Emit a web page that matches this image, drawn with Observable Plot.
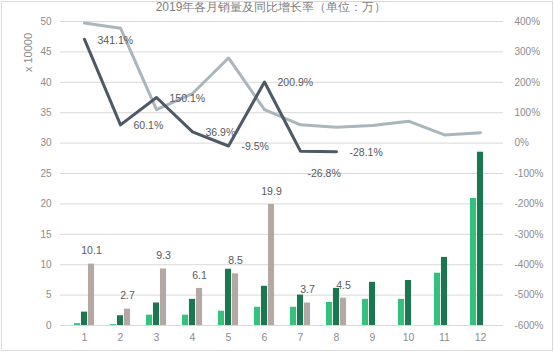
<!DOCTYPE html>
<html>
<head>
<meta charset="utf-8">
<script src="https://cdn.jsdelivr.net/npm/d3@7"></script>
<script src="https://cdn.jsdelivr.net/npm/@observablehq/plot@0.6"></script>
<style>
  html, body { margin: 0; padding: 0; background: #fff; }
  #chart svg { display: block; outline: 1px solid #d9d9d9; outline-offset: -2px; }
</style>
</head>
<body>
<div id="chart"></div>
<script>
// ---- data ----
const title = "2019年各月销量及同比增长率（单位：万）";
const yTitle = "x 10000";
const months = [1, 2, 3, 4, 5, 6, 7, 8, 9, 10, 11, 12];
const seriesA = [0.3, 0.15, 1.7, 1.7, 2.35, 3.0, 3.0, 3.8, 4.3, 4.3, 8.6, 20.9];      // light green
const seriesB = [2.2, 1.6, 3.7, 4.3, 9.25, 6.45, 5.0, 6.1, 7.1, 7.4, 11.2, 28.5];     // dark green
const seriesC = [10.1, 2.7, 9.3, 6.1, 8.5, 19.9, 3.7, 4.5, null, null, null, null];   // taupe
const growthDark = [341.1, 60.1, 150.1, 36.9, -9.5, 200.9, -26.8, -28.1, null, null, null, null];
const growthLight = [395, 378, 110, 163, 280, 110, 60, 52, 58, 72, 27, 34];
const leftTicks = [0, 5, 10, 15, 20, 25, 30, 35, 40, 45, 50];

// ---- helpers ----
// right axis: -600% .. 400% mapped onto left 0 .. 50
const toLeft = p => 30 + p / 20;
const rightFmt = v => `${Math.round((v - 30) * 20)}%`;

const W = 554, H = 352;
const mL = 60, mR = 51, mT = 21, mB = 27;
const bw = (W - mL - mR) / months.length;
const barW = 7;
const g0 = (bw - 3 * barW) / 2;
const inset = i => ({insetLeft: g0 + i * barW, insetRight: bw - g0 - (i + 1) * barW});

const rows = months.map((m, i) => ({
  m, a: seriesA[i], b: seriesB[i], c: seriesC[i],
  gd: growthDark[i], gl: growthLight[i]
}));
const rowsC = rows.filter(d => d.c != null);
const rowsD = rows.filter(d => d.gd != null);
const rowsDLab = rowsD.filter(d => d.m !== 7);
const rowsDLab7 = rowsD.filter(d => d.m === 7);

const font = "'Liberation Sans', Arial, sans-serif";
const tickColor = "#8c8c8c";
const labelColor = "#595959";

const chart = Plot.plot({
  width: W, height: H,
  marginLeft: mL, marginRight: mR, marginTop: mT, marginBottom: mB,
  style: {fontFamily: font, fontSize: "10px", background: "#fff", overflow: "visible"},
  x: {type: "band", domain: months, padding: 0},
  y: {domain: [0, 50]},
  marks: [
    Plot.gridY(leftTicks, {stroke: "#d9d9d9", strokeOpacity: 1}),
    Plot.axisY(leftTicks, {anchor: "left", tickSize: 0, tickPadding: 9, fill: tickColor, label: null, fontSize: 10}),
    Plot.axisY(leftTicks, {anchor: "right", tickSize: 0, tickPadding: 11, tickFormat: rightFmt, fill: tickColor, label: null, textAnchor: "start", fontSize: 10}),
    Plot.axisX({tickSize: 0, tickPadding: 8, fill: tickColor, label: null, fontSize: 10.5}),
    Plot.barY(rows, {x: "m", y: "a", fill: "#35c17d", ...inset(0)}),
    Plot.barY(rows, {x: "m", y: "b", fill: "#1b7750", ...inset(1)}),
    Plot.barY(rowsC, {x: "m", y: "c", fill: "#b5a7a2", ...inset(2)}),
    Plot.text(rowsC, {x: "m", y: "c", text: d => d.c.toFixed(1), dx: g0 + 2.5 * barW - bw / 2, dy: -13, fill: labelColor, fontSize: 10.5}),
    Plot.line(rows, {x: "m", y: d => toLeft(d.gl), stroke: "#a9b6bc", strokeWidth: 3}),
    Plot.line(rowsD, {x: "m", y: d => toLeft(d.gd), stroke: "#4e5966", strokeWidth: 3}),
    Plot.text(rowsDLab, {
      x: "m", y: d => toLeft(d.gd), text: d => d.gd.toFixed(1) + "%",
      textAnchor: "start", dx: 13, dy: 1, fill: labelColor, fontSize: 10.5
    }),
    Plot.text(rowsDLab7, {
      x: "m", y: d => toLeft(d.gd), text: d => d.gd.toFixed(1) + "%",
      textAnchor: "start", dx: 7, dy: 22, fill: labelColor, fontSize: 10.5
    }),
    Plot.text([title], {frameAnchor: "top", dy: -mT + 7, dx: -11, fill: "#7f7f7f", fontSize: 12, lineAnchor: "middle"}),
    Plot.text([yTitle], {frameAnchor: "top-left", dx: -32, dy: 31, rotate: -90, textAnchor: "middle", lineAnchor: "middle", fill: tickColor, fontSize: 11})
  ]
});
document.getElementById("chart").appendChild(chart);
</script>
</body>
</html>
